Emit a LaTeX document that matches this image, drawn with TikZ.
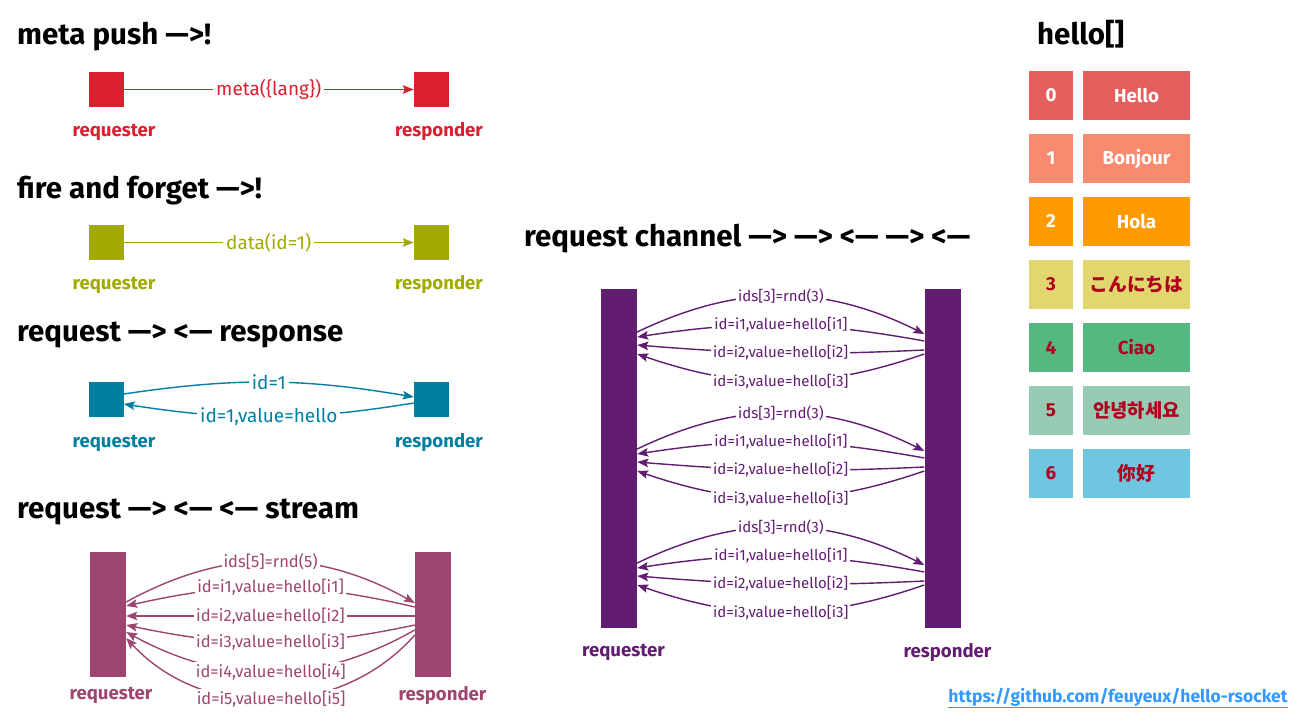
\documentclass[tikz,border=0pt]{standalone}
\usepackage{fontspec}
\setmainfont{Fira Sans}
\newfontfamily\cjk{Noto Sans CJK SC}
\usetikzlibrary{arrows.meta}
\definecolor{cmeta}{RGB}{218,32,46}
\definecolor{cfire}{RGB}{162,170,0}
\definecolor{creq}{RGB}{0,127,163}
\definecolor{cstream}{RGB}{158,69,112}
\definecolor{cchan}{RGB}{98,28,114}
\definecolor{h0}{RGB}{229,94,94}
\definecolor{h1}{RGB}{249,138,112}
\definecolor{h2}{RGB}{255,154,0}
\definecolor{h3}{RGB}{226,214,110}
\definecolor{h4}{RGB}{85,184,128}
\definecolor{h5}{RGB}{151,203,179}
\definecolor{h6}{RGB}{110,198,224}
\definecolor{hred}{RGB}{176,0,32}
\definecolor{clink}{RGB}{51,153,255}
\begin{document}
\begin{tikzpicture}[x=1pt,y=1pt,
  title/.style={anchor=base west,inner sep=0pt,font=\fontsize{29.5}{34}\selectfont\bfseries},
  sq/.style={rectangle,inner sep=0pt,minimum width=35pt,minimum height=35pt,fill=#1},
  sbar/.style={rectangle,inner sep=0pt,minimum width=36pt,minimum height=125pt,fill=#1},
  cbar/.style={rectangle,inner sep=0pt,minimum width=36pt,minimum height=339pt,fill=#1},
  role/.style={inner sep=0pt,text=#1,font=\fontsize{18.6}{21}\selectfont\bfseries},
  msg/.style={fill=white,inner sep=3pt,text=#1,font=\fontsize{19}{21}\selectfont},
  smsg/.style={fill=white,inner sep=2pt,text=#1,font=\fontsize{16.5}{18}\selectfont},
  cmsg/.style={fill=white,inner sep=2pt,text=#1,font=\fontsize{15}{17}\selectfont},
  flow/.style={draw=#1,line width=1.4pt,-{Stealth[length=11pt,width=8.5pt,inset=2pt]}},
  idx/.style={rectangle,inner sep=0pt,minimum width=44pt,minimum height=49pt,fill=#1,font=\fontsize{18.8}{21}\selectfont\bfseries},
  val/.style={rectangle,inner sep=0pt,minimum width=107pt,minimum height=49pt,fill=#1,font=\fontsize{18.8}{21}\selectfont\bfseries},
]
\useasboundingbox[fill=white] (0,0) rectangle (1305,-727);

% ---- meta push
\node[title] (t1) at (17,-45) {meta push —>!};
\node[sq=cmeta] (r1) at (106,-89.5) {};
\node[sq=cmeta] (s1) at (431.5,-89.5) {};
\node[role=cmeta] (r1l) at (114,-132) {requester};
\node[role=cmeta] (s1l) at (439,-132) {responder};
\draw[flow=cmeta] (r1) -- node[msg=cmeta] (m1) {meta(\{lang\})} (s1);

% ---- fire and forget
\node[title] (t2) at (17,-199) {fire and forget —>!};
\node[sq=cfire] (r2) at (106,-242.5) {};
\node[sq=cfire] (s2) at (431.5,-242.5) {};
\node[role=cfire] (r2l) at (114,-285) {requester};
\node[role=cfire] (s2l) at (439,-285) {responder};
\draw[flow=cfire] (r2) -- node[msg=cfire] (m2) {data(id=1)} (s2);

% ---- request response
\node[title] (t3) at (17,-341.5) {request —> <— response};
\node[sq=creq] (r3) at (106,-399.5) {};
\node[sq=creq] (s3) at (431.5,-399.5) {};
\node[role=creq] (r3l) at (114,-443) {requester};
\node[role=creq] (s3l) at (439,-443) {responder};
\draw[flow=creq] ([yshift=5.5pt]r3.east) to[bend left=9] node[msg=creq] (m3a) {id=1} ([yshift=2.5pt]s3.west);
\draw[flow=creq] ([yshift=-3.5pt]s3.west) to[bend left=9] node[msg=creq] (m3b) {id=1,value=hello} ([yshift=-4.5pt]r3.east);

% ---- request stream
\node[title] (t4) at (17,-518) {request —> <— <— stream};
\node[sbar=cstream] (q4) at (108,-614.5) {};
\node[sbar=cstream] (p4) at (433,-614.5) {};
\node[role=cstream] (q4l) at (111,-695) {requester};
\node[role=cstream] (p4l) at (442.5,-695) {responder};
\draw[flow=cstream] ([yshift=12.5pt]q4.east) to[bend left=29] node[smsg=cstream] (m40) {ids[5]=rnd(5)} ([yshift=11.5pt]p4.west);
\draw[flow=cstream] ([yshift=7.5pt]p4.west) to[bend right=13] node[smsg=cstream] (m41) {id=i1,value=hello[i1]} ([yshift=8.5pt]q4.east);
\draw[flow=cstream] ([yshift=-1.5pt]p4.west) -- node[smsg=cstream] (m42) {id=i2,value=hello[i2]} ([yshift=-1.5pt]q4.east);
\draw[flow=cstream] ([yshift=-10.5pt]p4.west) to[bend left=12] node[smsg=cstream] (m43) {id=i3,value=hello[i3]} ([yshift=-10.5pt]q4.east);
\draw[flow=cstream] ([yshift=-15.5pt]p4.west) to[bend left=29] node[smsg=cstream] (m44) {id=i4,value=hello[i4]} ([yshift=-17.5pt]q4.east);
\draw[flow=cstream] ([yshift=-20.5pt]p4.west) to[bend left=48] node[smsg=cstream] (m45) {id=i5,value=hello[i5]} ([yshift=-23.5pt]q4.east);

% ---- request channel
\node[title] (t5) at (524,-246.5) {request channel —> —> <— —> <—};
\node[cbar=cchan] (q5) at (619,-458.5) {};
\node[cbar=cchan] (p5) at (942.5,-458.5) {};
\node[role=cchan] (q5l) at (623.5,-652) {requester};
\node[role=cchan] (p5l) at (947.5,-652) {responder};
\foreach \L/\g in {296/a,413/b,527/c}{
  \pgfmathsetmacro\ya{458.5-\L-36}
  \pgfmathsetmacro\yb{458.5-\L-38}
  \pgfmathsetmacro\yc{458.5-\L-45}
  \pgfmathsetmacro\yd{458.5-\L-41}
  \pgfmathsetmacro\ye{458.5-\L-54}
  \pgfmathsetmacro\yf{458.5-\L-49}
  \pgfmathsetmacro\yg{458.5-\L-58}
  \draw[flow=cchan] ([yshift=\ya pt]q5.east) to[bend left=26] node[cmsg=cchan] (c\g0) {ids[3]=rnd(3)} ([yshift=\yb pt]p5.west);
  \draw[flow=cchan] ([yshift=\yc pt]p5.west) to[bend right=9.5] node[cmsg=cchan] (c\g1) {id=i1,value=hello[i1]} ([yshift=\yd pt]q5.east);
  \draw[flow=cchan] ([yshift=\ye pt]p5.west) to[bend left=3.7] node[cmsg=cchan] (c\g2) {id=i2,value=hello[i2]} ([yshift=\yf pt]q5.east);
  \draw[flow=cchan] ([yshift=\yg pt]p5.west) to[bend left=19] node[cmsg=cchan] (c\g3) {id=i3,value=hello[i3]} ([yshift=\yg pt]q5.east);
}

% ---- hello table
\node[title] (t6) at (1037,-45) {hello[]};
\foreach \i/\w/\c/\t in {0/Hello/h0/white,1/Bonjour/h1/white,2/Hola/h2/white,3/{\cjk こんにちは}/h3/hred,4/Ciao/h4/hred,5/{\cjk 안녕하세요}/h5/hred,6/{\cjk 你好}/h6/hred}{
  \node[idx=\c,text=\t] (k\i) at (1051,-95.5-63*\i) {\i};
  \node[val=\c,text=\t] (v\i) at (1136.5,-95.5-63*\i) {\w};
}

% ---- link
\node[inner sep=0pt,text=clink,font=\fontsize{17.5}{20}\selectfont\bfseries] (link) at (1118,-698) {\underline{https://github.com/feuyeux/hello-rsocket}};
\end{tikzpicture}
\end{document}
